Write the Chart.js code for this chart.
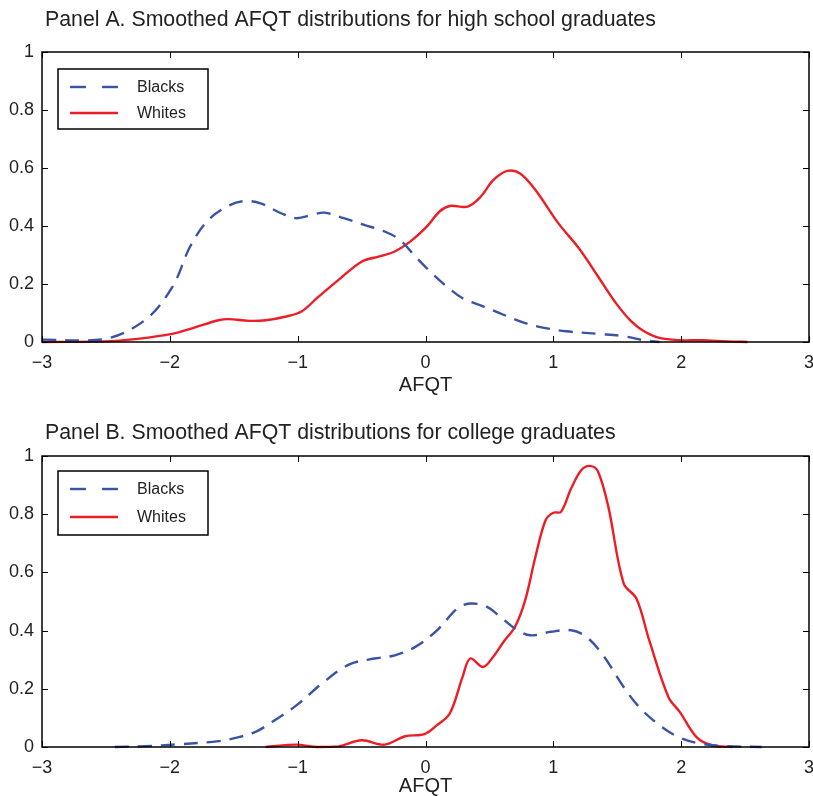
<!DOCTYPE html>
<html>
<head>
<meta charset="utf-8">
<script src="https://cdn.jsdelivr.net/npm/chart.js@4"></script>
<style>
  body { margin: 0; background: #fff; }
  .panel { position: relative; width: 813px; height: 398px; }
</style>
</head>
<body>
<div class="panel"><canvas id="panelA"></canvas></div>
<div class="panel"><canvas id="panelB"></canvas></div>
<script>
// Panel A - high school graduates
const afqtBlacksA = [-3, -2.51, -2.19, -1.98, -1.84, -1.70, -1.54, -1.42, -1.29, -1.13, -1.01, -0.89, -0.79, -0.64, -0.48, -0.32, -0.20, -0.08, 0.05, 0.17, 0.29, 0.45, 0.61, 0.78, 0.94, 1.10, 1.35, 1.55, 1.71, 1.83];
const densBlacksA = [0.008, 0.01, 0.077, 0.19, 0.33, 0.42, 0.47, 0.486, 0.478, 0.444, 0.427, 0.438, 0.446, 0.427, 0.404, 0.381, 0.352, 0.295, 0.237, 0.19, 0.151, 0.123, 0.094, 0.065, 0.048, 0.037, 0.028, 0.02, 0.006, 0];
const afqtWhitesA = [-3, -2.51, -2.27, -1.98, -1.82, -1.62, -1.54, -1.38, -1.25, -1.09, -0.97, -0.85, -0.68, -0.50, -0.36, -0.24, -0.12, 0.01, 0.11, 0.19, 0.33, 0.43, 0.53, 0.64, 0.74, 0.86, 1.04, 1.20, 1.35, 1.49, 1.61, 1.71, 1.83, 1.99, 2.16, 2.36, 2.52];
const densWhitesA = [0, 0.002, 0.01, 0.028, 0.048, 0.075, 0.079, 0.073, 0.075, 0.088, 0.105, 0.151, 0.214, 0.277, 0.295, 0.312, 0.346, 0.398, 0.45, 0.469, 0.467, 0.50, 0.558, 0.59, 0.581, 0.524, 0.409, 0.323, 0.226, 0.134, 0.071, 0.037, 0.014, 0.006, 0.006, 0.002, 0];

// Panel B - college graduates
const afqtBlacksB = [-2.43, -2.19, -1.94, -1.62, -1.46, -1.33, -1.21, -1.01, -0.81, -0.60, -0.40, -0.24, -0.08, 0.09, 0.25, 0.35, 0.47, 0.57, 0.70, 0.82, 0.98, 1.14, 1.26, 1.39, 1.55, 1.67, 1.83, 1.99, 2.16, 2.36, 2.63];
const densBlacksB = [0, 0.003, 0.009, 0.02, 0.034, 0.052, 0.083, 0.143, 0.218, 0.283, 0.304, 0.315, 0.344, 0.401, 0.476, 0.493, 0.484, 0.453, 0.407, 0.384, 0.396, 0.401, 0.378, 0.315, 0.206, 0.138, 0.075, 0.032, 0.011, 0.003, 0];
const afqtWhitesB = [-1.25, -1.01, -0.85, -0.68, -0.50, -0.32, -0.16, -0.01, 0.09, 0.19, 0.29, 0.35, 0.45, 0.53, 0.61, 0.70, 0.78, 0.86, 0.94, 1.00, 1.06, 1.14, 1.22, 1.29, 1.35, 1.43, 1.55, 1.65, 1.75, 1.90, 1.99, 2.12, 2.24, 2.40];
const densWhitesB = [0, 0.008, 0, 0.002, 0.023, 0.008, 0.037, 0.044, 0.075, 0.115, 0.241, 0.304, 0.275, 0.31, 0.361, 0.413, 0.505, 0.654, 0.78, 0.805, 0.808, 0.889, 0.952, 0.966, 0.946, 0.826, 0.562, 0.51, 0.367, 0.172, 0.12, 0.034, 0.006, 0];

const xTicks = [-3, -2, -1, 0, 1, 2, 3];
const yTicks = [0, 0.2, 0.4, 0.6, 0.8, 1];
const seriesNames = ['Blacks', 'Whites'];

const BLUE = '#3a54a5';
const RED = '#ee1d25';
const FONT = '"Liberation Sans", Arial, sans-serif';

const toPoints = (xs, ys) => xs.map((x, i) => ({ x, y: ys[i] }));

// frame, inward ticks, panel title and legend
const framePlugin = {
  id: 'frame',
  afterDraw(chart, args, opts) {
    const { ctx, chartArea: a, scales: { x, y } } = chart;
    ctx.save();
    ctx.strokeStyle = '#000';
    ctx.lineWidth = 1.5;
    ctx.strokeRect(a.left, a.top, a.right - a.left, a.bottom - a.top);

    ctx.lineWidth = 1;
    ctx.beginPath();
    xTicks.forEach(v => {
      const px = Math.round(x.getPixelForValue(v)) + 0.5;
      ctx.moveTo(px, a.bottom); ctx.lineTo(px, a.bottom - 6);
      ctx.moveTo(px, a.top); ctx.lineTo(px, a.top + 6);
    });
    yTicks.forEach(v => {
      const py = Math.round(y.getPixelForValue(v)) + 0.5;
      ctx.moveTo(a.left, py); ctx.lineTo(a.left + 6, py);
      ctx.moveTo(a.right, py); ctx.lineTo(a.right - 6, py);
    });
    ctx.stroke();

    // title
    ctx.fillStyle = '#222';
    ctx.font = '21.3px ' + FONT;
    ctx.textBaseline = 'middle';
    ctx.textAlign = 'left';
    ctx.fillText(opts.title, 45, opts.titleY);

    // legend
    const lb = opts.legend;
    ctx.fillStyle = '#fff';
    ctx.fillRect(lb.x, lb.y, lb.w, lb.h);
    ctx.lineWidth = 1.5;
    ctx.strokeStyle = '#000';
    ctx.strokeRect(lb.x, lb.y, lb.w, lb.h);
    chart.data.datasets.forEach((ds, i) => {
      const ly = lb.y + lb.rows[i];
      ctx.beginPath();
      ctx.strokeStyle = ds.borderColor;
      ctx.lineWidth = ds.borderWidth;
      ctx.setLineDash(ds.borderDash ? [16, 16] : []);
      ctx.moveTo(lb.x + 12, ly);
      ctx.lineTo(lb.x + 60, ly);
      ctx.stroke();
      ctx.setLineDash([]);
      ctx.fillStyle = '#222';
      ctx.font = '16px ' + FONT;
      ctx.fillText(ds.label, lb.x + 79, ly + 1);
    });
    ctx.restore();
  }
};

function makePanel(id, cfg) {
  return new Chart(document.getElementById(id), {
    type: 'line',
    data: {
      datasets: [
        {
          label: seriesNames[0],
          data: toPoints(cfg.bx, cfg.by),
          borderColor: BLUE,
          borderWidth: 2.4,
          borderDash: [14, 9],
          pointRadius: 0,
          tension: 0.35,
          clip: 4,
        },
        {
          label: seriesNames[1],
          data: toPoints(cfg.wx, cfg.wy),
          borderColor: RED,
          borderWidth: 2.4,
          pointRadius: 0,
          tension: 0.35,
          clip: 4,
        },
      ],
    },
    options: {
      responsive: false,
      animation: false,
      layout: { padding: { left: 0, right: 4, top: cfg.top, bottom: 0 } },
      plugins: {
        legend: { display: false },
        tooltip: { enabled: false },
        frame: { title: cfg.title, titleY: cfg.titleY, legend: cfg.legend },
      },
      scales: {
        x: {
          type: 'linear',
          min: -3,
          max: 3,
          afterBuildTicks: s => { s.ticks = xTicks.map(v => ({ value: v })); },
          afterFit: s => { s.height = cfg.xHeight; s.paddingLeft = 0; s.paddingRight = 0; },
          grid: { display: false, drawTicks: false },
          border: { display: false },
          ticks: {
            padding: 10,
            color: '#222',
            font: { family: FONT, size: 18 },
            maxRotation: 0,
            callback: v => String(v).replace('-', '\u2212'),
          },
          title: {
            display: true,
            text: 'AFQT',
            color: '#222',
            font: { family: FONT, size: 20, lineHeight: 1 },
            padding: { top: 0, bottom: cfg.xTitlePad },
          },
        },
        y: {
          min: 0,
          max: 1,
          afterBuildTicks: s => { s.ticks = yTicks.map(v => ({ value: v })); },
          afterFit: s => { s.width = 42; s.paddingTop = 0; s.paddingBottom = 0; },
          grid: { display: false, drawTicks: false },
          border: { display: false },
          ticks: {
            padding: 8,
            color: '#222',
            font: { family: FONT, size: 18 },
            callback: v => String(v),
          },
        },
      },
    },
    plugins: [framePlugin],
  });
}

document.getElementById('panelA').width = 813;
document.getElementById('panelA').height = 398;
document.getElementById('panelB').width = 813;
document.getElementById('panelB').height = 398;

makePanel('panelA', {
  bx: afqtBlacksA, by: densBlacksA, wx: afqtWhitesA, wy: densWhitesA,
  title: 'Panel A. Smoothed AFQT distributions for high school graduates',
  titleY: 20,
  top: 52,
  xHeight: 56,
  xTitlePad: 3,
  legend: { x: 58, y: 69, w: 150, h: 60, rows: [18, 44] },
});

makePanel('panelB', {
  bx: afqtBlacksB, by: densBlacksB, wx: afqtWhitesB, wy: densWhitesB,
  title: 'Panel B. Smoothed AFQT distributions for college graduates',
  titleY: 35,
  top: 58,
  xHeight: 49,
  xTitlePad: 0,
  legend: { x: 58, y: 73, w: 150, h: 64, rows: [18, 46] },
});
</script>
</body>
</html>
